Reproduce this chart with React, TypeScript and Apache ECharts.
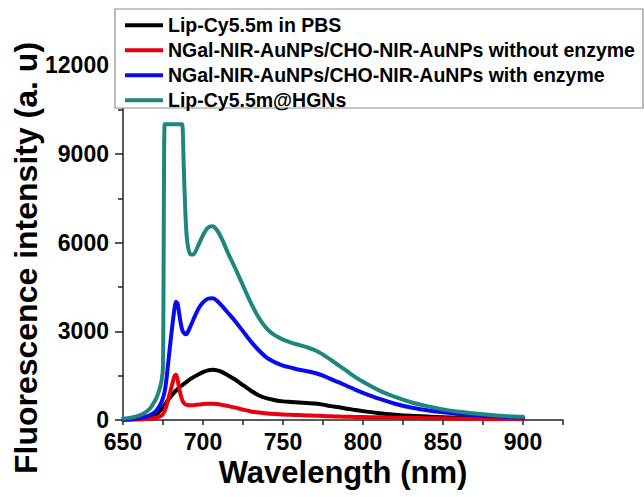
import React, { useEffect, useRef } from "react";
import * as echarts from "echarts";

const wavelengths = [
  650, 655, 660, 664, 667, 670, 672, 674, 675, 676, 677, 678, 680, 682, 683, 684, 685, 686, 687, 688, 689, 690,
  692, 694, 697, 700, 703, 706, 709, 712, 716, 720, 725, 730, 735, 740, 745, 750, 755, 760, 765, 770, 775, 780,
  785, 790, 795, 800, 810, 820, 830, 840, 850, 860, 870, 880, 890, 900,
];

const pbs = [
  10, 25, 45, 70, 110, 180, 250, 360, 420, 500, 580, 660, 800, 930, 990, 1040, 1090, 1140, 1180, 1220, 1260, 1300,
  1380, 1450, 1540, 1620, 1680, 1700, 1680, 1620, 1500, 1370, 1180, 990, 830, 730, 670, 630, 610, 590, 575, 555, 520, 470,
  430, 380, 340, 300, 230, 180, 140, 115, 95, 80, 70, 60, 55, 50,
];

const withoutEnzyme = [
  5, 10, 20, 30, 45, 70, 100, 150, 200, 300, 450, 650, 1050, 1450, 1530, 1400, 1100, 850, 680, 580, 530, 510,
  500, 500, 520, 540, 550, 550, 540, 510, 470, 420, 350, 290, 250, 220, 200, 185, 175, 165, 155, 145, 135, 125,
  118, 110, 105, 100, 90, 80, 70, 62, 55, 48, 42, 37, 33, 30,
];

const withEnzyme = [
  20, 40, 70, 110, 170, 270, 400, 600, 750, 950, 1300, 1800, 2800, 3700, 4000, 3950, 3650, 3300, 3050, 2950, 2900, 2920,
  3150, 3400, 3750, 3980, 4100, 4120, 4020, 3850, 3600, 3350, 3000, 2650, 2350, 2100, 1950, 1840, 1770, 1700, 1650, 1590, 1500, 1380,
  1270, 1150, 1030, 920, 720, 550, 420, 330, 260, 200, 160, 130, 100, 80,
];

const hgns = [
  40, 80, 150, 260, 400, 650, 900, 1300, 1800, 10000, 10000, 10000, 10000, 10000, 10000, 10000, 10000, 10000, 10000, 8500, 7000, 6100,
  5600, 5600, 5900, 6250, 6500, 6550, 6400, 6100, 5600, 5150, 4550, 3950, 3450, 3080, 2860, 2720, 2620, 2540, 2460, 2360, 2210, 2030,
  1840, 1650, 1460, 1290, 1000, 780, 600, 470, 360, 280, 220, 170, 130, 110,
];

const seriesNames = [
  "Lip-Cy5.5m in PBS",
  "NGal-NIR-AuNPs/CHO-NIR-AuNPs without enzyme",
  "NGal-NIR-AuNPs/CHO-NIR-AuNPs with enzyme",
  "Lip-Cy5.5m@HGNs",
];
const seriesValues = [pbs, withoutEnzyme, withEnzyme, hgns];
const seriesColors = ["#000000", "#e8000c", "#0a0aee", "#1e857f"];

const FONT = "'Liberation Sans', Arial, sans-serif";

export default function App() {
  const ref = useRef<HTMLDivElement>(null);
  useEffect(() => {
    if (!ref.current) return;
    const chart = echarts.init(ref.current, null, { renderer: "svg" });
    chart.setOption({
      animation: false,
      backgroundColor: "#ffffff",
      grid: { left: 123, right: 81, top: 65.2, bottom: 77 },
      xAxis: {
        type: "value",
        min: 650,
        max: 925,
        interval: 25,
        axisLine: { show: true, lineStyle: { color: "#222", width: 1.5 } },
        axisTick: { show: true, inside: false, length: 5, lineStyle: { color: "#222", width: 1.5 } },
        axisLabel: {
          margin: 10,
          color: "#000",
          fontFamily: FONT,
          fontWeight: "bold",
          fontSize: 23,
          formatter: (v: number) => (v % 50 === 0 && v <= 900 ? String(v) : ""),
        },
        splitLine: { show: false },
      },
      yAxis: {
        type: "value",
        min: 0,
        max: 12000,
        interval: 3000,
        axisLine: { show: true, lineStyle: { color: "#222", width: 1.5 } },
        axisTick: { show: true, inside: false, length: 8, lineStyle: { color: "#222", width: 1.5 } },
        minorTick: { show: true, splitNumber: 2, length: 5, lineStyle: { color: "#222", width: 1.5 } },
        axisLabel: {
          margin: 14,
          color: "#000",
          fontFamily: FONT,
          fontWeight: "bold",
          fontSize: 23,
          formatter: (v: number) => String(v),
        },
        splitLine: { show: false },
      },
      legend: {
        show: true,
        orient: "vertical",
        left: 125,
        top: 12.8,
        padding: 0,
        itemGap: 0,
        itemWidth: 38,
        itemHeight: 4,
        icon: "rect",
        data: seriesNames,
        textStyle: { color: "#000", fontFamily: FONT, fontWeight: "bold", fontSize: 19.5, lineHeight: 25 },
      },
      graphic: [
        {
          type: "rect",
          z: 3,
          shape: { x: 115, y: 9, width: 528, height: 99 },
          style: { fill: "#ffffff", stroke: "#8c8c8c", lineWidth: 1.2 },
        },
        {
          type: "text",
          z: 5,
          x: 343,
          y: 472,
          style: {
            text: "Wavelength (nm)",
            fill: "#000",
            font: `bold 31px ${FONT}`,
            textAlign: "center",
            textVerticalAlign: "middle",
          },
        },
        {
          type: "text",
          z: 5,
          x: 26,
          y: 258,
          rotation: Math.PI / 2,
          style: {
            text: "Fluorescence intensity (a. u)",
            fill: "#000",
            font: `bold 32px ${FONT}`,
            textAlign: "center",
            textVerticalAlign: "middle",
          },
        },
      ],
      series: seriesNames.map((name, i) => ({
        name,
        type: "line",
        data: wavelengths.map((w, j) => [w, seriesValues[i][j]]),
        showSymbol: false,
        symbol: "none",
        smooth: 0.25,
        color: seriesColors[i],
        lineStyle: { color: seriesColors[i], width: 4, join: "round", cap: "round" },
        z: 2,
      })),
    });
    return () => chart.dispose();
  }, []);
  return <div ref={ref} style={{ width: 644, height: 497, position: "absolute", left: 0, top: 0 }} />;
}
